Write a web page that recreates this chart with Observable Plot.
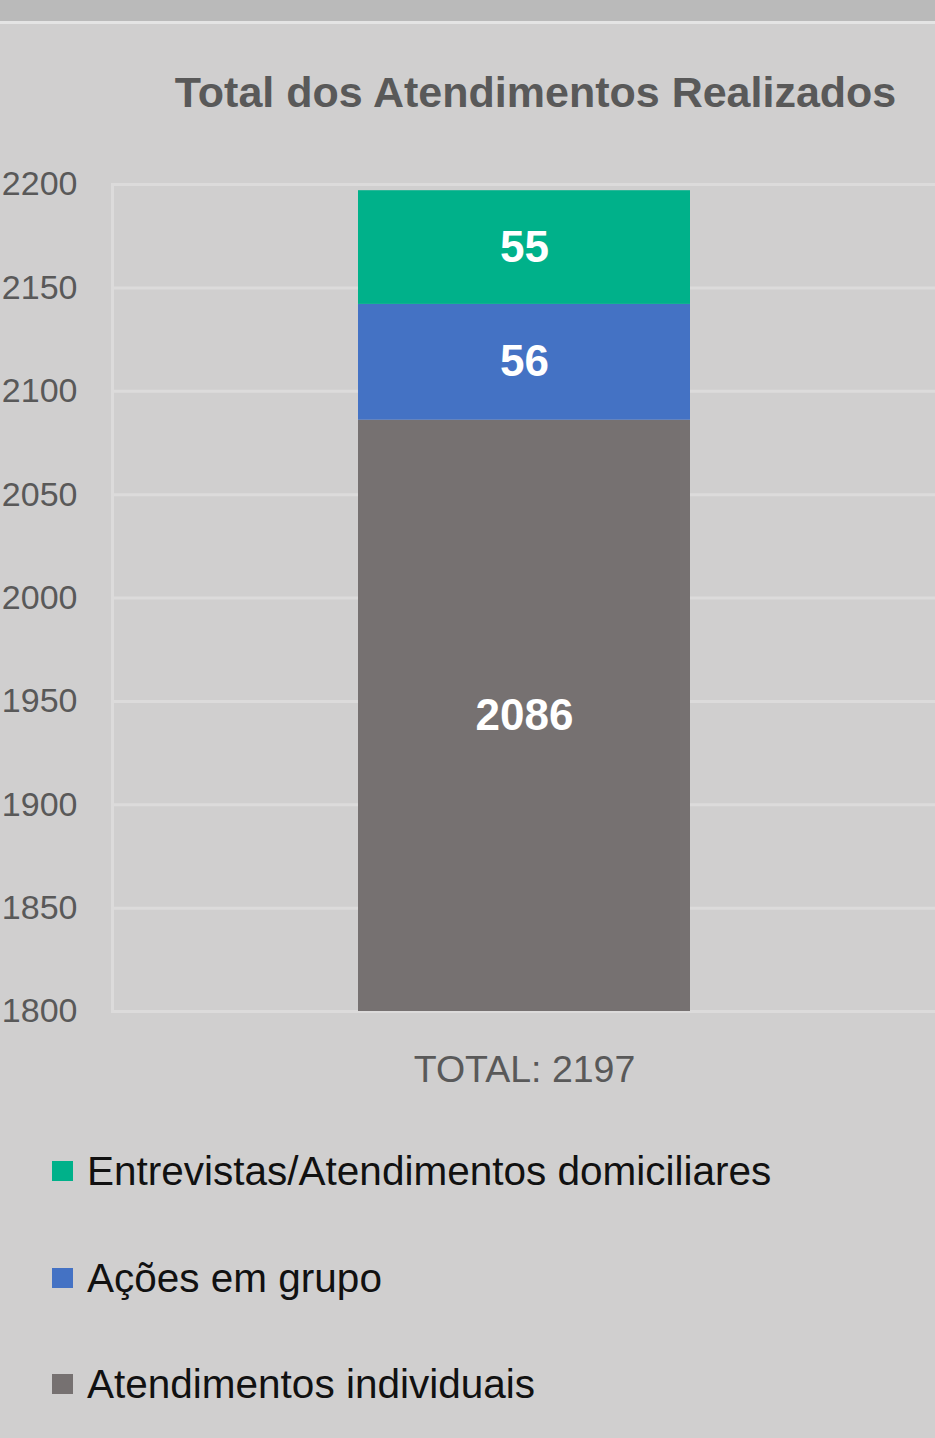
<!DOCTYPE html>
<html>
<head>
<meta charset="utf-8">
<script src="https://cdn.jsdelivr.net/npm/d3@7"></script>
<script src="https://cdn.jsdelivr.net/npm/@observablehq/plot@0.6"></script>
<style>
  html, body { margin: 0; padding: 0; }
  body { background: #d0cfcf; width: 935px; height: 1438px; overflow: hidden; position: relative; font-family: "Liberation Sans", Arial, sans-serif; }
  #band { position: absolute; left: 0; top: 0; width: 935px; height: 21px; background: #bababa; border-bottom: 3px solid #e4e4e4; }
  #title { position: absolute; left: 0; width: 1071px; top: 71px; text-align: center; font-size: 43px; line-height: 43px; font-weight: bold; color: #595959; white-space: nowrap; }
  #chart { position: absolute; left: 0; top: 130px; }
  .leg { position: absolute; left: 52px; display: flex; align-items: center; font-size: 40.5px; line-height: 42px; color: #111; white-space: nowrap; }
  .sw { width: 21px; height: 20px; margin-right: 14px; flex: none; }
</style>
</head>
<body>
<div id="band"></div>
<div id="title">Total dos Atendimentos Realizados</div>
<div id="chart"></div>
<div id="legend"></div>
<script>
const categories = ["TOTAL: 2197"];
const series = ["Atendimentos individuais", "Ações em grupo", "Entrevistas/Atendimentos domiciliares"];
const values = [2086, 56, 55];
const colors = ["#767171", "#4472c4", "#00b18a"];
const yTicks = [1800, 1850, 1900, 1950, 2000, 2050, 2100, 2150, 2200];
const yDomain = [1800, 2200];

// stacked rows
let acc = 0;
const rows = series.map((s, i) => {
  const y1 = acc, y2 = acc + values[i];
  acc = y2;
  return { cat: categories[0], series: s, value: values[i], y1, y2, ymid: (Math.max(y1, yDomain[0]) + y2) / 2 };
});

const chart = Plot.plot({
  width: 935,
  height: 990,
  marginTop: 54,
  marginBottom: 109,
  marginLeft: 112,
  marginRight: 0,
  style: { background: "transparent", fontFamily: "'Liberation Sans', Arial, sans-serif", color: "#595959" },
  x: { domain: categories, padding: 0.425, label: null },
  y: { domain: yDomain, label: null },
  color: { domain: series, range: colors },
  marks: [
    Plot.ruleY(yTicks, { stroke: "#dcdbdb", strokeWidth: 3 }),
    Plot.frame({ anchor: "left", stroke: "#dcdbdb", strokeWidth: 3 }),
    Plot.barY(rows, { x: "cat", y1: "y1", y2: "y2", fill: "series", clip: true }),
    Plot.text(rows, { x: "cat", y: "ymid", text: d => String(d.value), fill: "white", fontWeight: "bold", fontSize: 44 }),
    Plot.axisY(yTicks, { tickSize: 0, tickPadding: 35, fontSize: 34, tickFormat: d => String(d), fill: "#595959", label: null }),
    Plot.axisX({ tickSize: 0, tickPadding: 44, fontSize: 37.5, fill: "#595959", label: null })
  ]
});
document.getElementById("chart").appendChild(chart);

// legend (top to bottom reverses stack order)
const legend = document.getElementById("legend");
const legTops = [1150, 1257, 1363];
series.slice().reverse().forEach((s, i) => {
  const idx = series.indexOf(s);
  const row = document.createElement("div");
  row.className = "leg";
  row.style.top = legTops[i] + "px";
  const sw = document.createElement("div");
  sw.className = "sw";
  sw.style.background = colors[idx];
  const t = document.createElement("span");
  t.textContent = s;
  row.appendChild(sw);
  row.appendChild(t);
  legend.appendChild(row);
});
</script>
</body>
</html>
